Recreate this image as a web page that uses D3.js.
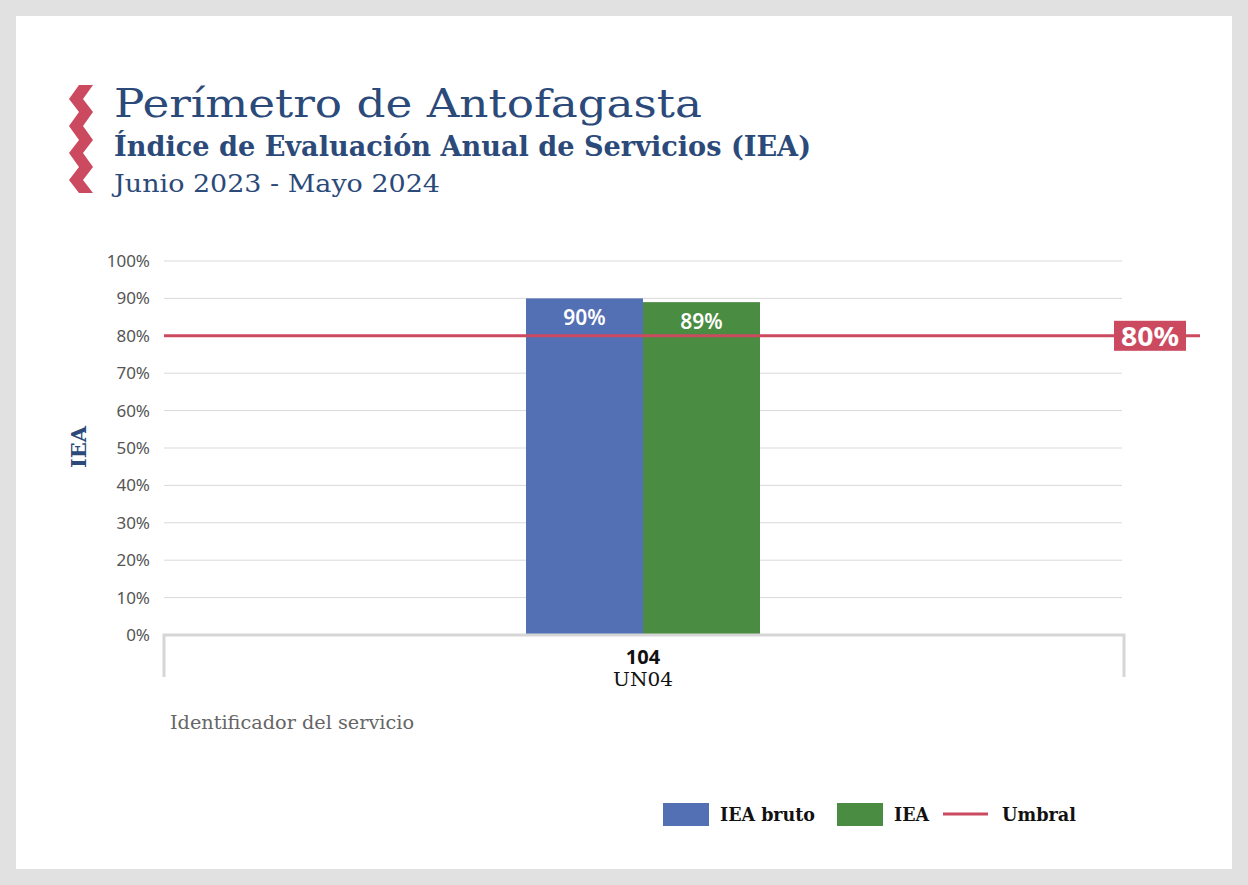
<!DOCTYPE html>
<html><head><meta charset="utf-8">
<script src="https://cdn.jsdelivr.net/npm/d3@7"></script>
<style>body{margin:0;background:#fff}svg{display:block}</style>
</head><body>
<script>
const categories = ["104"];
const subLabels = ["UN04"];
const seriesNames = ["IEA bruto", "IEA"];
const ieaBruto = [90];
const iea = [89];
const threshold = 80;
const yTicks = [0,10,20,30,40,50,60,70,80,90,100];
const colors = ["#5470b4", "#4a8c41"];
const red = "#cc4a60";
const navy = "#2b4a7a";
const serif = "'DejaVu Serif', serif";
const sans = "'Noto Sans', 'Open Sans', sans-serif";

const W = 1248, H = 885;
const svg = d3.select("body").append("svg").attr("width", W).attr("height", H);
svg.append("rect").attr("width", W).attr("height", H).attr("fill", "#e1e1e1");
svg.append("rect").attr("x", 16).attr("y", 16).attr("width", 1216).attr("height", 853).attr("fill", "#fff");

// zigzag decoration
const zz = [[86,85],[76,99],[86,112],[76,126],[86,140],[76,153],[86,167],[76,180],[86,193]];
const poly = zz.map(p => [p[0]-7, p[1]]).concat(zz.slice().reverse().map(p => [p[0]+7, p[1]]));
svg.append("path").attr("d", d3.line()(poly) + "Z").attr("fill", red);

svg.append("text").attr("x", 114).attr("y", 117).attr("font-family", serif).attr("font-size", 40).attr("font-weight", 300)
  .attr("fill", navy).attr("textLength", 588).attr("lengthAdjust", "spacingAndGlyphs").text("Perímetro de Antofagasta");
svg.append("text").attr("x", 114).attr("y", 156).attr("font-family", serif).attr("font-size", 27).attr("font-weight", "bold")
  .attr("fill", navy).attr("textLength", 697).attr("lengthAdjust", "spacingAndGlyphs").text("Índice de Evaluación Anual de Servicios (IEA)");
svg.append("text").attr("x", 114).attr("y", 192).attr("font-family", serif).attr("font-size", 24)
  .attr("fill", navy).attr("textLength", 326).attr("lengthAdjust", "spacingAndGlyphs").text("Junio 2023 - Mayo 2024");

const pLeft = 164, pRight = 1122, pTop = 261, pBottom = 635;
const y = d3.scaleLinear().domain([0, 100]).range([pBottom, pTop]);
const bw = 234;
const x0 = d3.scaleBand().domain(categories).range([pLeft, pRight]).paddingInner(0).paddingOuter(((pRight-pLeft)/bw - 1)/2);
const x1 = d3.scaleBand().domain(seriesNames).range([0, x0.bandwidth()]).padding(0);

// grid
svg.append("g").selectAll("line").data(yTicks.filter(d => d > 0)).join("line")
  .attr("x1", pLeft).attr("x2", pRight).attr("y1", d => y(d)).attr("y2", d => y(d))
  .attr("stroke", "#d9d9d9").attr("stroke-width", 1);

// y axis labels
const yAxis = d3.axisLeft(y).tickValues(yTicks).tickFormat(d => d + "%").tickSize(0).tickPadding(14);
const ya = svg.append("g").attr("transform", `translate(${pLeft},0)`).call(yAxis);
ya.select(".domain").remove();
ya.selectAll("text").attr("font-family", sans).attr("font-size", 17).attr("fill", "#555");

svg.append("text").attr("transform", `translate(86,447) rotate(-90)`).attr("text-anchor", "middle")
  .attr("font-family", serif).attr("font-weight", "bold").attr("font-size", 21).attr("fill", navy).text("IEA");

// bars
const rows = categories.map((c, i) => ({cat: c, vals: [ieaBruto[i], iea[i]]}));
const g = svg.append("g").selectAll("g").data(rows).join("g").attr("transform", d => `translate(${x0(d.cat)},0)`);
g.selectAll("rect").data(d => d.vals.map((v, j) => ({k: seriesNames[j], v, j}))).join("rect")
  .attr("x", d => x1(d.k)).attr("width", x1.bandwidth())
  .attr("y", d => y(d.v)).attr("height", d => pBottom - y(d.v)).attr("fill", d => colors[d.j]);
g.selectAll("text").data(d => d.vals.map((v, j) => ({k: seriesNames[j], v, j}))).join("text")
  .attr("x", d => x1(d.k) + x1.bandwidth()/2).attr("y", d => y(d.v) + 27).attr("text-anchor", "middle")
  .attr("font-family", sans).attr("font-weight", 600).attr("font-size", 21).attr("fill", "#fff").text(d => d.v + "%");

// x axis
svg.append("path").attr("d", `M${pLeft},677V${pBottom}H1124V677`).attr("fill", "none").attr("stroke", "#d6d6d6").attr("stroke-width", 3);
categories.forEach((c, i) => {
  const cx = x0(c) + x0.bandwidth()/2;
  svg.append("text").attr("x", cx).attr("y", 664).attr("text-anchor", "middle").attr("font-family", sans)
    .attr("font-weight", "bold").attr("font-size", 20).attr("fill", "#111").text(c);
  svg.append("text").attr("x", cx).attr("y", 686).attr("text-anchor", "middle").attr("font-family", serif)
    .attr("font-size", 19).attr("fill", "#111").attr("textLength", 60).attr("lengthAdjust", "spacingAndGlyphs").text(subLabels[i]);
});
svg.append("text").attr("x", 170).attr("y", 729).attr("font-family", serif).attr("font-size", 19).attr("fill", "#666")
  .attr("textLength", 244).attr("lengthAdjust", "spacingAndGlyphs").text("Identificador del servicio");

// threshold
svg.append("line").attr("x1", pLeft).attr("x2", 1200).attr("y1", y(threshold)).attr("y2", y(threshold))
  .attr("stroke", red).attr("stroke-width", 3);
svg.append("rect").attr("x", 1114).attr("y", y(threshold) - 15).attr("width", 72).attr("height", 30).attr("fill", red);
svg.append("text").attr("x", 1150).attr("y", y(threshold) + 10).attr("text-anchor", "middle").attr("font-family", sans)
  .attr("font-weight", "bold").attr("font-size", 26).attr("fill", "#fff").attr("textLength", 58).attr("lengthAdjust", "spacingAndGlyphs")
  .text(threshold + "%");

// legend
const leg = svg.append("g").attr("font-family", serif).attr("font-size", 19).attr("font-weight", "bold").attr("fill", "#111");
leg.append("rect").attr("x", 663).attr("y", 803).attr("width", 46).attr("height", 23).attr("fill", colors[0]);
leg.append("text").attr("x", 720).attr("y", 821).attr("textLength", 95).attr("lengthAdjust", "spacingAndGlyphs").text(seriesNames[0]);
leg.append("rect").attr("x", 837).attr("y", 803).attr("width", 46).attr("height", 23).attr("fill", colors[1]);
leg.append("text").attr("x", 894).attr("y", 821).attr("textLength", 35).attr("lengthAdjust", "spacingAndGlyphs").text(seriesNames[1]);
leg.append("line").attr("x1", 943).attr("x2", 988).attr("y1", 814).attr("y2", 814).attr("stroke", red).attr("stroke-width", 3);
leg.append("text").attr("x", 1002).attr("y", 821).attr("textLength", 74).attr("lengthAdjust", "spacingAndGlyphs").text("Umbral");
</script>
</body></html>
